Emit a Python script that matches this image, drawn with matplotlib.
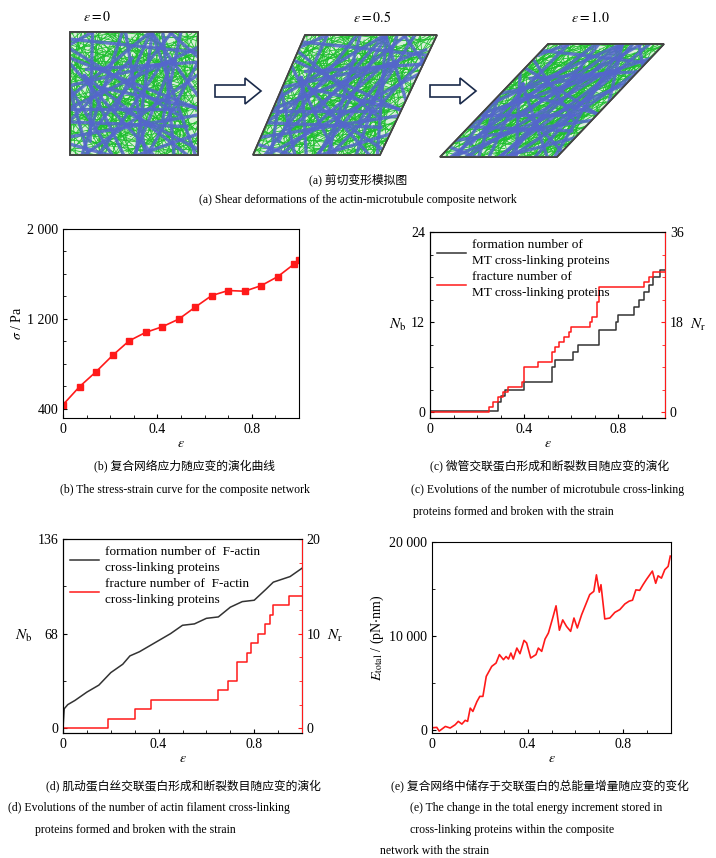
import numpy as np
import matplotlib
matplotlib.use("Agg")
import matplotlib.pyplot as plt
from matplotlib.ticker import MultipleLocator, FuncFormatter
from matplotlib.patches import Polygon, FancyArrow

plt.rcParams['font.family'] = ['Liberation Serif', 'Noto Sans CJK SC']
plt.rcParams['mathtext.fontset'] = 'stix'
plt.rcParams['xtick.direction'] = 'in'
plt.rcParams['ytick.direction'] = 'in'

# ---------------- data ----------------
strain_b = [0, 0.07, 0.14, 0.21, 0.28, 0.35, 0.42, 0.49, 0.56, 0.63, 0.70, 0.77, 0.84, 0.91, 0.98, 1.0]
stress_b = [435, 596, 729, 874, 1004, 1079, 1129, 1197, 1304, 1407, 1452, 1446, 1496, 1576, 1689, 1727]

c_form_x = [0, 0.29, 0.30, 0.32, 0.34, 0.40, 0.52, 0.53, 0.61, 0.63, 0.72, 0.79, 0.80, 0.85, 0.87, 0.89, 0.91, 0.93, 0.95, 0.98, 1.0]
c_form_y = [0.2, 1.4, 2.2, 3.0, 3.0, 4.0, 6.0, 7.0, 8.0, 9.0, 11.0, 12.0, 13.0, 13.0, 14.0, 15.0, 16.0, 17.0, 18.0, 19.0, 19.0]
c_frac_x = [0, 0.25, 0.27, 0.29, 0.31, 0.33, 0.37, 0.39, 0.40, 0.46, 0.52, 0.53, 0.55, 0.57, 0.59, 0.60, 0.68, 0.69, 0.71, 0.72, 0.90, 0.91, 0.93, 0.95, 1.0]
c_frac_y = [0, 1, 2, 3, 4, 5, 5, 6, 9, 10, 12, 13, 14, 15, 16, 17, 18, 19, 22, 25, 25, 26, 27, 28, 28]

d_form_x = [0, 0.005, 0.02, 0.05, 0.1, 0.15, 0.2, 0.25, 0.28, 0.32, 0.36, 0.39, 0.45, 0.5, 0.55, 0.6, 0.65, 0.7, 0.75, 0.8, 0.85, 0.88, 0.95, 1.0]
d_form_y = [0, 14, 17, 20, 26, 31, 40, 46, 52, 55, 59, 62, 68, 74, 75, 79, 80, 87, 91, 92, 100, 105, 109, 115]
d_frac_x = [0, 0.19, 0.30, 0.37, 0.65, 0.69, 0.73, 0.77, 0.785, 0.815, 0.845, 0.865, 0.88, 0.947, 1.0]
d_frac_y = [0, 1, 2, 3, 4, 5, 7, 8, 9, 10, 11, 12, 13, 14, 14]

e_x = [0, 0.02, 0.03, 0.056, 0.076, 0.097, 0.11, 0.125, 0.139, 0.149, 0.16, 0.171, 0.188, 0.2, 0.213, 0.227,
       0.25, 0.268, 0.282, 0.299, 0.31, 0.32, 0.33, 0.34, 0.355, 0.368, 0.385, 0.396, 0.413, 0.435, 0.445, 0.459,
       0.473, 0.487, 0.505, 0.519, 0.533, 0.547, 0.563, 0.58, 0.594, 0.608, 0.626, 0.66, 0.677, 0.688, 0.7, 0.707,
       0.723, 0.744, 0.765, 0.786, 0.807, 0.825, 0.839, 0.853, 0.869, 0.883, 0.897, 0.922, 0.936, 0.946, 0.96,
       0.974, 0.988, 0.997]
e_y = [200, 250, -150, 350, 180, 530, 890, 600, 1000, 890, 2300, 1950, 3000, 3550, 3550, 5680,
       6750, 7100, 8000, 7460, 7800, 7530, 8170, 7530, 8700, 8100, 9520, 9240, 7640, 8000, 8700, 8350,
       9660, 10300, 11900, 13200, 10600, 11700, 11000, 10480, 11900, 10840, 12250, 14400, 14740, 16500, 14650, 15450,
       11800, 11900, 12500, 12800, 13400, 13700, 13800, 14900, 14850, 15450, 16000, 16900, 15600, 16400, 16150,
       17050, 17400, 18500]

labels_a = [r'$\varepsilon = 0$', r'$\varepsilon = 0.5$', r'$\varepsilon = 1.0$']

W, H = 716, 858
fig = plt.figure(figsize=(W / 100, H / 100), dpi=100)

def ax_px(l, t, r, b):
    return fig.add_axes([l / W, 1 - b / H, (r - l) / W, (b - t) / H])

ov = fig.add_axes([0, 0, 1, 1])
ov.set_xlim(0, W); ov.set_ylim(H, 0); ov.axis('off')

def network(shape_pts):
    (blx, bly), (brx, bry), (trx, try_), (tlx, tly) = shape_pts
    def m(u, v):
        return blx + u * (brx - blx) + v * (tlx - blx), bly + v * (tly - bly)
    poly = Polygon(shape_pts, closed=True, facecolor='#d8f0d8', edgecolor='#333333', lw=1.2, zorder=2)
    ov.add_patch(poly)
    for k in range(380):
        u0 = (k * 0.6180339887) % 1; v0 = (k * 0.7548776662) % 1
        ang = (k * 0.5698402910) % 1 * np.pi
        L = 0.25
        x1, y1 = m(u0 - L * np.cos(ang), v0 - L * np.sin(ang))
        x2, y2 = m(u0 + L * np.cos(ang), v0 + L * np.sin(ang))
        ln, = ov.plot([x1, x2], [y1, y2], color='#1fbf2f', lw=0.6, zorder=3)
        ln.set_clip_path(poly)
    for k in range(36):
        u0 = (k * 0.41421356 + 0.13) % 1; v0 = (k * 0.73205080 + 0.37) % 1
        ang = (k * 0.3819660) % 1 * np.pi
        L = 0.7
        x1, y1 = m(u0 - L * np.cos(ang), v0 - L * np.sin(ang))
        x2, y2 = m(u0 + L * np.cos(ang), v0 + L * np.sin(ang))
        ln, = ov.plot([x1, x2], [y1, y2], color='#5566cc', lw=2.4, alpha=0.85, zorder=4)
        ln.set_clip_path(poly)
    ov.add_patch(Polygon(shape_pts, closed=True, facecolor='none', edgecolor='#444444', lw=1.2, zorder=5))

network([(70, 155), (198, 155), (198, 32), (70, 32)])
network([(253, 155), (380, 155), (437, 35), (305, 35)])
network([(440, 157), (557, 157), (664, 44), (548, 44)])
for x0 in (215, 430):
    ov.add_patch(FancyArrow(x0, 91, 30, 0, width=12, head_width=26, head_length=16,
                            length_includes_head=False, facecolor='white', edgecolor='#1a2a4a', lw=1.2, zorder=5))
for xc, lab in zip((97, 372, 590), labels_a):
    ov.text(xc, 17, lab, ha='center', va='center', fontsize=10)

cap = dict(ha='center', va='center', fontsize=8.5)
lcap = dict(ha='left', va='center', fontsize=8.5)
ov.text(358, 180, '(a) 剪切变形模拟图', **cap)
ov.text(358, 200, '(a) Shear deformations of the actin-microtubule composite network', **cap)
ov.text(185, 466, '(b) 复合网络应力随应变的演化曲线', **cap)
ov.text(185, 490, '(b) The stress-strain curve for the composite network', **cap)
ov.text(550, 466, '(c) 微管交联蛋白形成和断裂数目随应变的演化', **cap)
ov.text(548, 490, '(c) Evolutions of the number of microtubule cross-linking', **cap)
ov.text(413, 512, 'proteins formed and broken with the strain', **lcap)
ov.text(183, 786, '(d) 肌动蛋白丝交联蛋白形成和断裂数目随应变的演化', **cap)
ov.text(8, 808, '(d) Evolutions of the number of actin filament cross-linking', **lcap)
ov.text(35, 830, 'proteins formed and broken with the strain', **lcap)
ov.text(540, 786, '(e) 复合网络中储存于交联蛋白的总能量增量随应变的变化', **cap)
ov.text(410, 808, '(e) The change in the total energy increment stored in', **lcap)
ov.text(410, 830, 'cross-linking proteins within the composite', **lcap)
ov.text(380, 851, 'network with the strain', **lcap)

red = '#ff1a1a'
sp = FuncFormatter(lambda v, p: f'{int(v):,}'.replace(',', ' '))
xfmt = FuncFormatter(lambda v, p: '0' if abs(v) < 1e-9 else f'{v:.1f}')

def style_x(ax):
    ax.set_xlim(0, 1.0)
    ax.xaxis.set_major_locator(MultipleLocator(0.4))
    ax.xaxis.set_minor_locator(MultipleLocator(0.1))
    ax.xaxis.set_major_formatter(xfmt)
    ax.tick_params(labelsize=10, length=3)
    ax.tick_params(which='minor', length=2)
    ax.set_xlabel(r'$\varepsilon$', fontsize=10, labelpad=1)

leg = dict(loc='upper left', frameon=False, fontsize=9.5, handlelength=2.2,
           borderaxespad=0.1, labelspacing=0.35, handletextpad=0.5)

def make_legend(ax, handles, labels):
    lg = ax.legend(handles, labels, **leg)
    for t in lg.get_texts():
        t.set_linespacing(1.45)
    for h in lg.legend_handles:
        pass
    return lg

# (b)
ab = ax_px(63, 229, 299, 418)
ab.plot(strain_b, stress_b, color=red, lw=1.2, marker='s', ms=5)
ab.set_ylim(317, 2000)
ab.set_yticks([400, 1200, 2000])
ab.yaxis.set_minor_locator(MultipleLocator(200))
ab.yaxis.set_major_formatter(sp)
style_x(ab)
ab.set_ylabel(r'$\sigma$ / Pa', fontsize=10, labelpad=2)

# (c)
ac = ax_px(430, 232, 665, 418)
ac.step(c_form_x, c_form_y, where='post', color='#333333', lw=1.1, label='formation number of\nMT cross-linking proteins')
ac2 = ac.twinx()
ac2.step(c_frac_x, c_frac_y, where='post', color=red, lw=1.1, label='fracture number of\nMT cross-linking proteins')
ac.set_ylim(-0.8, 24); ac.set_yticks([0, 12, 24]); ac.yaxis.set_minor_locator(MultipleLocator(3))
ac2.set_ylim(-1.2, 36); ac2.set_yticks([0, 18, 36]); ac2.yaxis.set_minor_locator(MultipleLocator(4.5))
style_x(ac)
ac.set_ylabel(r'$N_{\rm b}$', fontsize=11, rotation=0, labelpad=10, va='center')
ac2.set_ylabel(r'$N_{\rm r}$', fontsize=11, rotation=0, labelpad=10, va='center')
h1, l1 = ac.get_legend_handles_labels(); h2, l2 = ac2.get_legend_handles_labels()
make_legend(ac2, h1 + h2, l1 + l2)

# (d)
ad = ax_px(63, 539, 302, 733)
ad.plot(d_form_x, d_form_y, color='#333333', lw=1.1, label='formation number of  F-actin\ncross-linking proteins')
ad2 = ad.twinx()
ad2.step(d_frac_x, d_frac_y, where='post', color=red, lw=1.1, label='fracture number of  F-actin\ncross-linking proteins')
ad.set_ylim(-3.4, 136); ad.set_yticks([0, 68, 136]); ad.yaxis.set_minor_locator(MultipleLocator(34))
ad2.set_ylim(-0.5, 20); ad2.set_yticks([0, 10, 20]); ad2.yaxis.set_minor_locator(MultipleLocator(2.5))
style_x(ad)
ad.set_ylabel(r'$N_{\rm b}$', fontsize=11, rotation=0, labelpad=10, va='center')
ad2.set_ylabel(r'$N_{\rm r}$', fontsize=11, rotation=0, labelpad=10, va='center')
h1, l1 = ad.get_legend_handles_labels(); h2, l2 = ad2.get_legend_handles_labels()
make_legend(ad2, h1 + h2, l1 + l2)

for a2 in (ac2, ad2):
    a2.spines['right'].set_color(red)
    a2.tick_params(axis='y', colors=red, labelcolor='black', labelsize=10, length=3)
    a2.tick_params(axis='y', which='minor', colors=red, length=2)
for a in (ab, ac, ad):
    a.tick_params(axis='y', labelsize=10)

# (e)
ae = ax_px(432, 542, 671, 733)
ae.plot(e_x, e_y, color=red, lw=1.2)
ae.set_ylim(-350, 20000); ae.set_yticks([0, 10000, 20000])
ae.yaxis.set_minor_locator(MultipleLocator(5000))
ae.yaxis.set_major_formatter(sp)
style_x(ae)
ae.tick_params(axis='y', labelsize=10)
ae.set_ylabel(r'$E_{\rm total}$ / (pN$\cdot$nm)', fontsize=10, labelpad=2)

fig.savefig('out.png', dpi=100)
